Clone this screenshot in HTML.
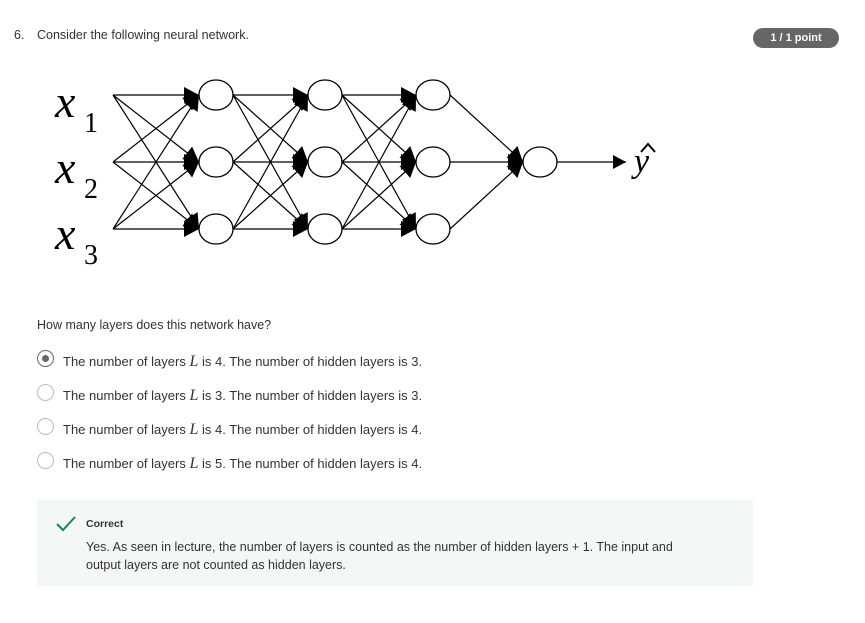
<!DOCTYPE html>
<html><head><meta charset="utf-8"><style>
body{margin:0;width:865px;height:623px;background:#fff;font-family:"Liberation Sans",sans-serif;color:#333;position:relative;overflow:hidden}
.a{position:absolute;white-space:nowrap}
.opt{position:absolute;left:37px;font-size:13px;color:#333}
.rad{position:absolute;left:0;top:-3px;width:17px;height:17px;border:1.5px solid #bbb;border-radius:50%;box-sizing:border-box}
.opt span.t{position:absolute;left:26px;top:0;white-space:nowrap}
i.L{font-family:"Liberation Serif",serif;font-size:16px}
</style></head><body>
<div class="a" style="left:14px;top:28px;font-size:12.5px">6.</div>
<div class="a" style="left:37px;top:28px;font-size:12.5px">Consider the following neural network.</div>
<div class="a" style="left:753px;top:28px;width:86px;height:20px;border-radius:10px;background:#666;color:#fff;font-size:11px;font-weight:bold;text-align:center;line-height:20px">1 / 1 point</div>

<svg class="a" style="left:0;top:0" width="865" height="300">
<defs><marker id="m" markerUnits="userSpaceOnUse" markerWidth="16" markerHeight="18" refX="15" refY="9" orient="auto"><path d="M0,1 L15,9 L0,17 Z" fill="#000"/></marker>
<marker id="m2" markerUnits="userSpaceOnUse" markerWidth="14" markerHeight="14" refX="13" refY="7" orient="auto"><path d="M0,0 L13,7 L0,14 Z" fill="#000"/></marker></defs>
<g stroke="#000" stroke-width="1.2" fill="none">
<g marker-end="url(#m)">
<line x1="113" y1="95" x2="199" y2="95"/><line x1="113" y1="95" x2="199" y2="162"/><line x1="113" y1="95" x2="199" y2="229"/>
<line x1="113" y1="162" x2="199" y2="95"/><line x1="113" y1="162" x2="199" y2="162"/><line x1="113" y1="162" x2="199" y2="229"/>
<line x1="113" y1="229" x2="199" y2="95"/><line x1="113" y1="229" x2="199" y2="162"/><line x1="113" y1="229" x2="199" y2="229"/>
<line x1="233" y1="95" x2="308" y2="95"/><line x1="233" y1="95" x2="308" y2="162"/><line x1="233" y1="95" x2="308" y2="229"/>
<line x1="233" y1="162" x2="308" y2="95"/><line x1="233" y1="162" x2="308" y2="162"/><line x1="233" y1="162" x2="308" y2="229"/>
<line x1="233" y1="229" x2="308" y2="95"/><line x1="233" y1="229" x2="308" y2="162"/><line x1="233" y1="229" x2="308" y2="229"/>
<line x1="342" y1="95" x2="416" y2="95"/><line x1="342" y1="95" x2="416" y2="162"/><line x1="342" y1="95" x2="416" y2="229"/>
<line x1="342" y1="162" x2="416" y2="95"/><line x1="342" y1="162" x2="416" y2="162"/><line x1="342" y1="162" x2="416" y2="229"/>
<line x1="342" y1="229" x2="416" y2="95"/><line x1="342" y1="229" x2="416" y2="162"/><line x1="342" y1="229" x2="416" y2="229"/>
<line x1="450" y1="95" x2="523" y2="162"/><line x1="450" y1="162" x2="523" y2="162"/><line x1="450" y1="229" x2="523" y2="162"/>
</g>
<line x1="557" y1="162" x2="626" y2="162" marker-end="url(#m2)"/>
<g fill="#fff" stroke-width="1.3">
<ellipse cx="216" cy="95" rx="17" ry="15"/><ellipse cx="216" cy="162" rx="17" ry="15"/><ellipse cx="216" cy="229" rx="17" ry="15"/>
<ellipse cx="325" cy="95" rx="17" ry="15"/><ellipse cx="325" cy="162" rx="17" ry="15"/><ellipse cx="325" cy="229" rx="17" ry="15"/>
<ellipse cx="433" cy="95" rx="17" ry="15"/><ellipse cx="433" cy="162" rx="17" ry="15"/><ellipse cx="433" cy="229" rx="17" ry="15"/>
<ellipse cx="540" cy="162" rx="17" ry="15"/>
</g></g>
<g font-family="Liberation Serif,serif" fill="#000">
<text x="55" y="117" font-size="46" font-style="italic">x</text><text x="84" y="132" font-size="28">1</text>
<text x="55" y="183" font-size="46" font-style="italic">x</text><text x="84" y="198" font-size="28">2</text>
<text x="55" y="249" font-size="46" font-style="italic">x</text><text x="84" y="264" font-size="28">3</text>
<text x="634" y="172" font-size="34" font-style="italic">y</text>
<path d="M641,152 L648,144 L655,152" stroke="#000" stroke-width="2" fill="none"/>
</g>
</svg>

<div class="a" style="left:37px;top:318px;font-size:12.5px">How many layers does this network have?</div>
<div class="opt" style="top:353px"><div class="rad" style="border:1.5px solid #666"><div style="position:absolute;left:3.5px;top:3.5px;width:7px;height:7px;border-radius:50%;background:#666"></div></div><span class="t">The number of layers <i class="L">L</i> is 4. The number of hidden layers is 3.</span></div>
<div class="opt" style="top:387px"><div class="rad"></div><span class="t">The number of layers <i class="L">L</i> is 3. The number of hidden layers is 3.</span></div>
<div class="opt" style="top:421px"><div class="rad"></div><span class="t">The number of layers <i class="L">L</i> is 4. The number of hidden layers is 4.</span></div>
<div class="opt" style="top:455px"><div class="rad"></div><span class="t">The number of layers <i class="L">L</i> is 5. The number of hidden layers is 4.</span></div>

<div class="a" style="left:37px;top:500px;width:716px;height:86px;background:#f3f8f6"></div>
<svg class="a" style="left:55px;top:515px" width="22" height="18"><path d="M2,9 L8,15 L20,2" stroke="#1f8354" stroke-width="2" fill="none"/></svg>
<div class="a" style="left:86px;top:518px;font-size:10.5px;font-weight:bold">Correct</div>
<div class="a" style="left:86px;top:538px;font-size:12.5px;line-height:18px;white-space:normal;width:615px">Yes. As seen in lecture, the number of layers is counted as the number of hidden layers + 1. The input and output layers are not counted as hidden layers.</div>
</body></html>
